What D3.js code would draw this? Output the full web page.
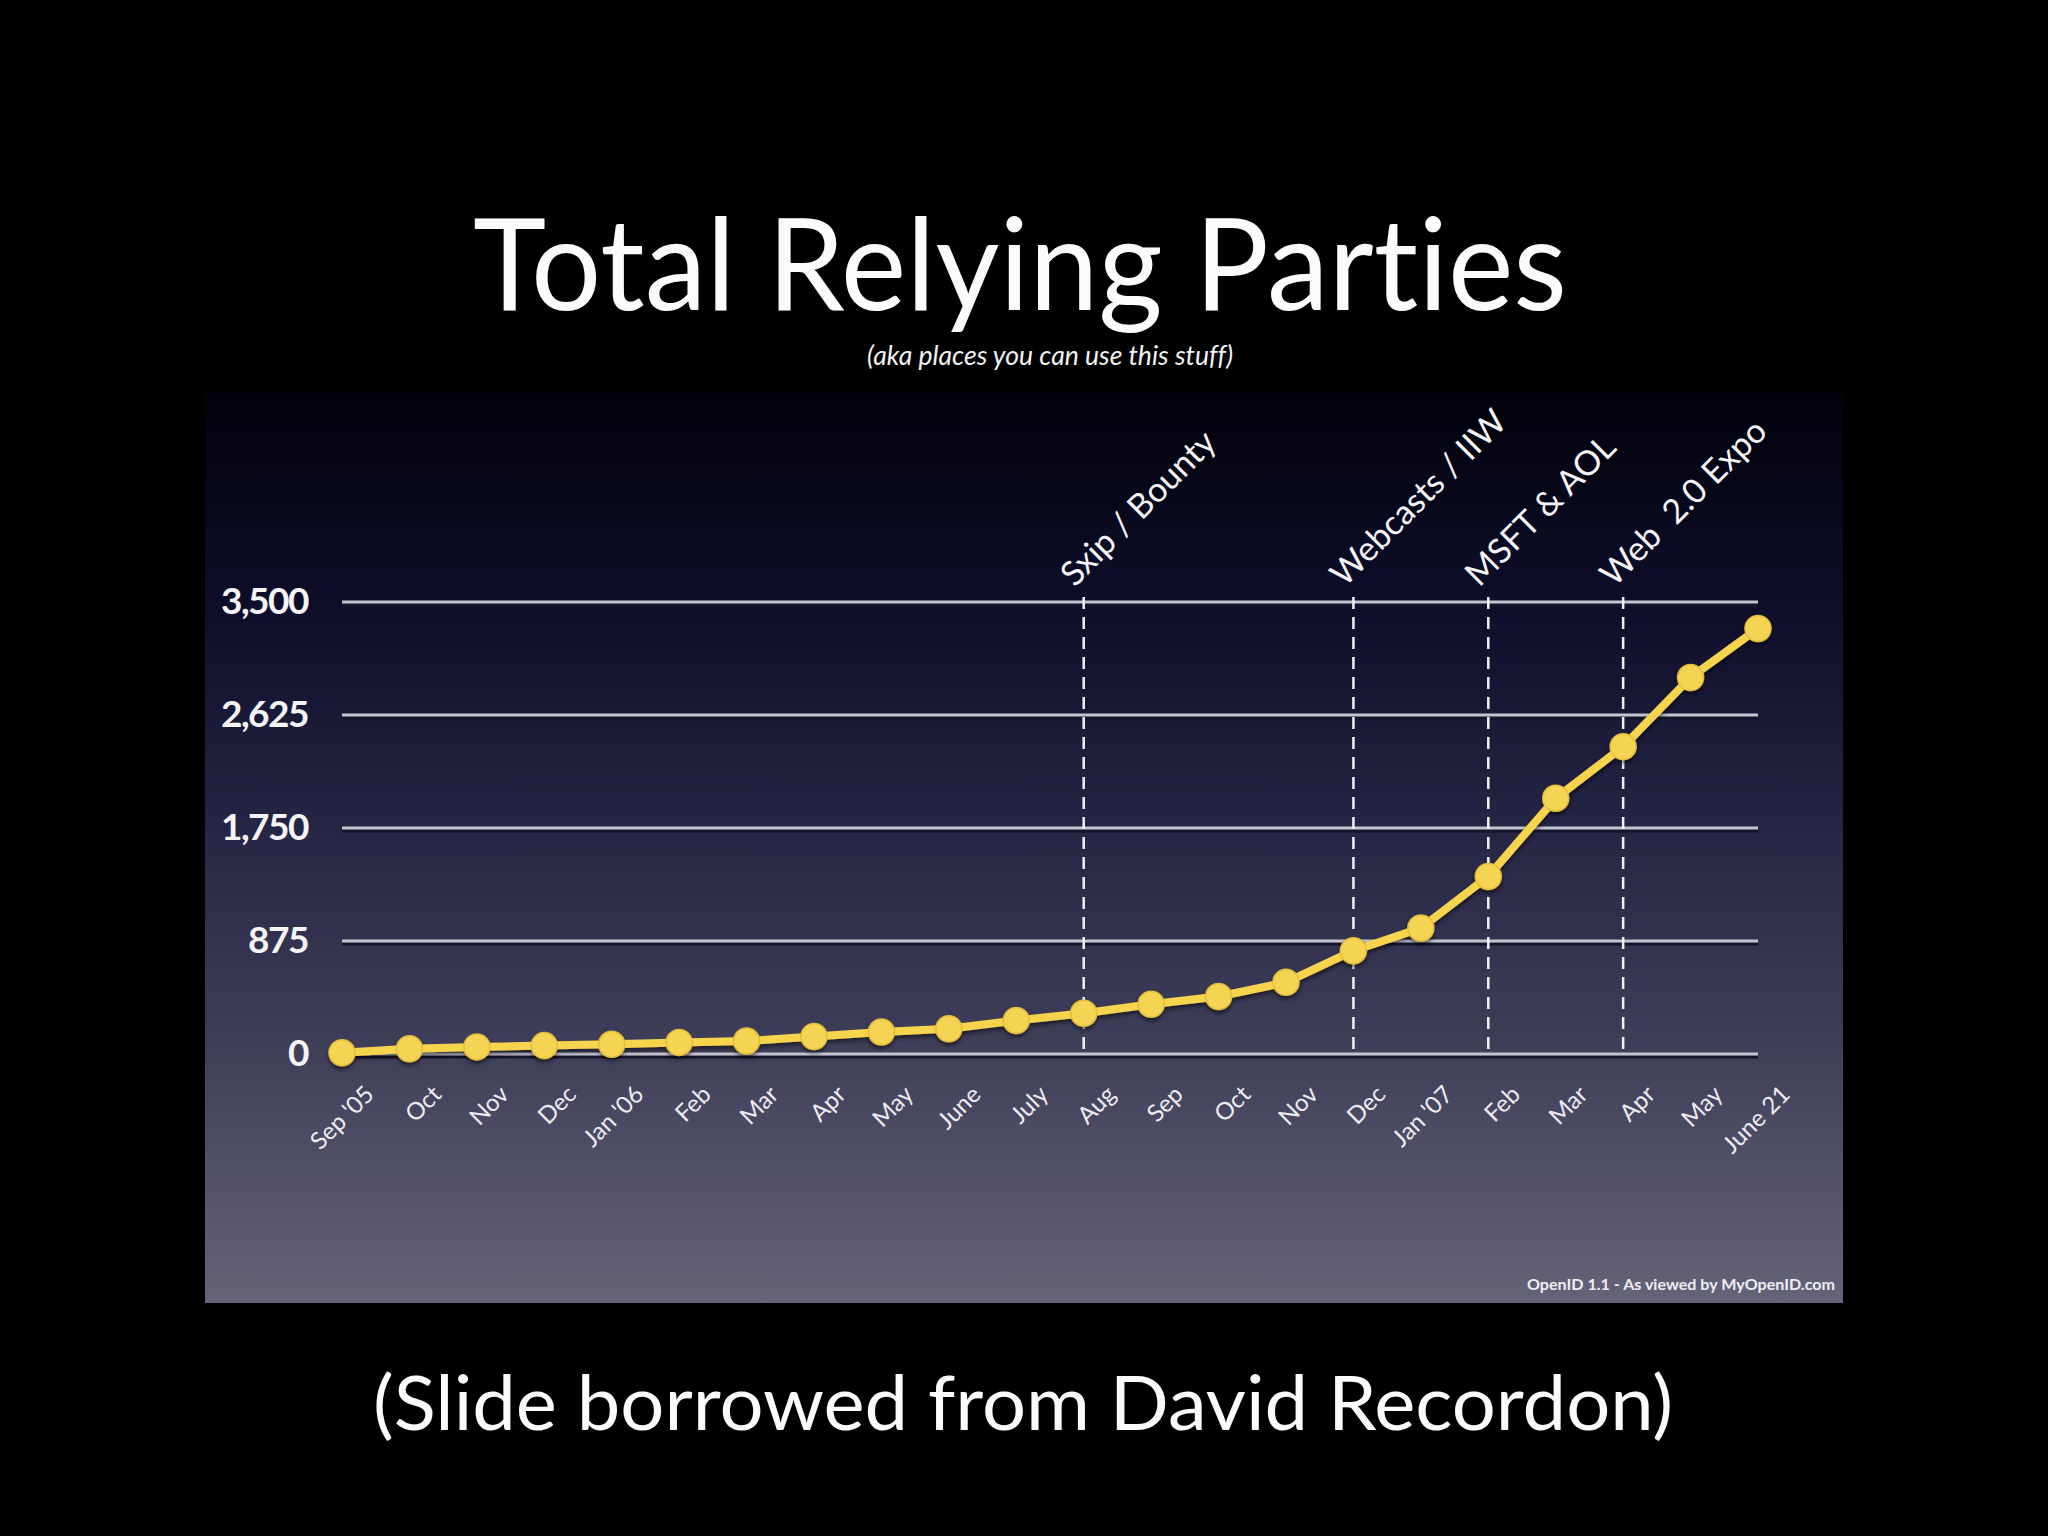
<!DOCTYPE html>
<html>
<head>
<meta charset="utf-8">
<script src="https://cdn.jsdelivr.net/npm/d3@7"></script>
<style>
  body { margin: 0; background: #000; }
  svg { display: block; }
  text { font-family: Lato, "Open Sans", sans-serif; font-variant-ligatures: none; }
</style>
</head>
<body>
<div id="chart"></div>
<script>
// months along the bottom (Sep '05 .. June 21 '07)
const months = ["Sep '05", "Oct", "Nov", "Dec", "Jan '06", "Feb", "Mar", "Apr", "May", "June",
                "July", "Aug", "Sep", "Oct", "Nov", "Dec", "Jan '07", "Feb", "Mar", "Apr", "May", "June 21"];
// total relying parties
const totals = [10, 40, 55, 65, 75, 90, 100, 135, 170, 195,
                260, 315, 385, 445, 555, 800, 975, 1375, 1980, 2380, 2915, 3295];
const yTicks = [0, 875, 1750, 2625, 3500];
// events marked with dashed lines (index into months)
const eventIdx = [11, 15, 17, 19];
const eventNames = ["Sxip / Bounty", "Webcasts / IIW", "MSFT & AOL", "Web\u00a0 2.0 Expo"];

const W = 2048, H = 1536;
const panel = {x0: 205, x1: 1843, y0: 392, y1: 1303};

let svg = d3.select("#chart").append("svg")
  .attr("width", W)
  .attr("height", H);

let defs = svg.append("defs");
let grad = defs.append("linearGradient")
  .attr("id", "bg")
  .attr("x1", 0).attr("y1", 0).attr("x2", 0).attr("y2", 1);
[["0%", "#02020b"], ["22%", "#0d0d2a"], ["48%", "#252545"], ["73%", "#41405b"], ["100%", "#646378"]]
  .forEach(function(s){
    grad.append("stop").attr("offset", s[0]).attr("stop-color", s[1]);
  });

let shadow = defs.append("filter").attr("id", "shadow")
  .attr("x", "-10%").attr("y", "-10%").attr("width", "120%").attr("height", "130%");
shadow.append("feDropShadow")
  .attr("dx", 0).attr("dy", 3).attr("stdDeviation", 2)
  .attr("flood-color", "#000").attr("flood-opacity", 0.55);

// black slide
svg.append("rect").attr("width", W).attr("height", H).attr("fill", "#000");

// title
svg.append("text")
  .attr("x", 1020).attr("y", 310)
  .attr("text-anchor", "middle")
  .attr("font-size", 128)
  .attr("fill", "#fbfbfb")
  .attr("textLength", 1094)
  .attr("lengthAdjust", "spacingAndGlyphs")
  .text("Total Relying Parties");

svg.append("text")
  .attr("x", 1050).attr("y", 365)
  .attr("text-anchor", "middle")
  .attr("font-size", 27)
  .attr("font-style", "italic")
  .attr("fill", "#f2f2f2")
  .attr("textLength", 366)
  .attr("lengthAdjust", "spacingAndGlyphs")
  .text("(aka places you can use this stuff)");

// chart panel
svg.append("rect")
  .attr("x", panel.x0).attr("y", panel.y0)
  .attr("width", panel.x1 - panel.x0).attr("height", panel.y1 - panel.y0)
  .attr("fill", "url(#bg)");

let x = d3.scalePoint().domain(d3.range(months.length)).range([342, 1758]);
let y = d3.scaleLinear().domain([0, 3500]).range([1054, 602]);

// gridlines (dark shadow + light line)
let grid = svg.append("g").attr("class", "grid");
grid.selectAll(".gshadow").data(yTicks).enter().append("line")
  .attr("x1", x(0)).attr("x2", x(months.length - 1))
  .attr("y1", function(d){ return y(d) + 3; }).attr("y2", function(d){ return y(d) + 3; })
  .attr("stroke", "#14142a").attr("stroke-width", 3);
grid.selectAll(".gline").data(yTicks).enter().append("line")
  .attr("x1", x(0)).attr("x2", x(months.length - 1))
  .attr("y1", function(d){ return y(d); }).attr("y2", function(d){ return y(d); })
  .attr("stroke", "#c4c4d0").attr("stroke-width", 3);

// y axis labels
let yAxis = svg.append("g")
  .attr("transform", "translate(" + x(0) + ",0)")
  .call(d3.axisLeft(y).tickValues(yTicks).tickFormat(d3.format(",")).tickSize(0).tickPadding(34));
yAxis.select(".domain").remove();
yAxis.selectAll("text")
  .attr("font-family", "Lato, sans-serif")
  .attr("font-size", 37)
  .attr("font-weight", "bold")
  .attr("letter-spacing", -1.5)
  .attr("fill", "#f4f4f4");

// x axis labels, rotated
let xAxis = svg.append("g")
  .attr("transform", "translate(0," + y(0) + ")")
  .call(d3.axisBottom(x).tickFormat(function(i){ return months[i]; }).tickSize(0));
xAxis.select(".domain").remove();
xAxis.selectAll("text")
  .attr("y", 0).attr("dy", "0.35em")
  .attr("text-anchor", "end")
  .attr("transform", "translate(27,36) rotate(-45)")
  .attr("font-family", "Lato, sans-serif")
  .attr("font-size", 24)
  .attr("fill", "#ececf0");

// event markers
let ev = svg.append("g").attr("class", "events");
ev.selectAll("line").data(eventIdx).enter().append("line")
  .attr("x1", function(d){ return x(d); }).attr("x2", function(d){ return x(d); })
  .attr("y1", y(3500) - 5).attr("y2", y(0))
  .attr("stroke", "#f2f2f2").attr("stroke-width", 2.5)
  .attr("stroke-dasharray", "12,8");
ev.selectAll("text").data(eventIdx).enter().append("text")
  .attr("transform", function(d){ return "translate(" + (x(d) - 9) + "," + (y(3500) - 14) + ") rotate(-45)"; })
  .attr("font-size", 34)
  .attr("fill", "#f4f4f6")
  .text(function(d, i){ return eventNames[i]; });

// the series
let line = d3.line()
  .x(function(d, i){ return x(i); })
  .y(function(d){ return y(d); });

let series = svg.append("g").attr("filter", "url(#shadow)");
series.append("path")
  .datum(totals)
  .attr("d", line)
  .attr("fill", "none")
  .attr("stroke", "#f6d44e")
  .attr("stroke-width", 8)
  .attr("stroke-linejoin", "round");
series.selectAll("circle").data(totals).enter().append("circle")
  .attr("cx", function(d, i){ return x(i); })
  .attr("cy", function(d){ return y(d); })
  .attr("r", 13)
  .attr("fill", "#f6d452")
  .attr("stroke", "#e2bd3c")
  .attr("stroke-width", 1.5);

// source note
svg.append("text")
  .attr("x", 1835).attr("y", 1290)
  .attr("text-anchor", "end")
  .attr("font-size", 15)
  .attr("font-weight", "bold")
  .attr("fill", "#eeeef2")
  .attr("textLength", 308)
  .attr("lengthAdjust", "spacingAndGlyphs")
  .text("OpenID 1.1 - As viewed by MyOpenID.com");

// caption under the slide
svg.append("text")
  .attr("x", 1023).attr("y", 1430)
  .attr("text-anchor", "middle")
  .attr("font-size", 76)
  .attr("fill", "#fbfbfb")
  .attr("textLength", 1300)
  .attr("lengthAdjust", "spacingAndGlyphs")
  .text("(Slide borrowed from David Recordon)");
</script>
</body>
</html>
